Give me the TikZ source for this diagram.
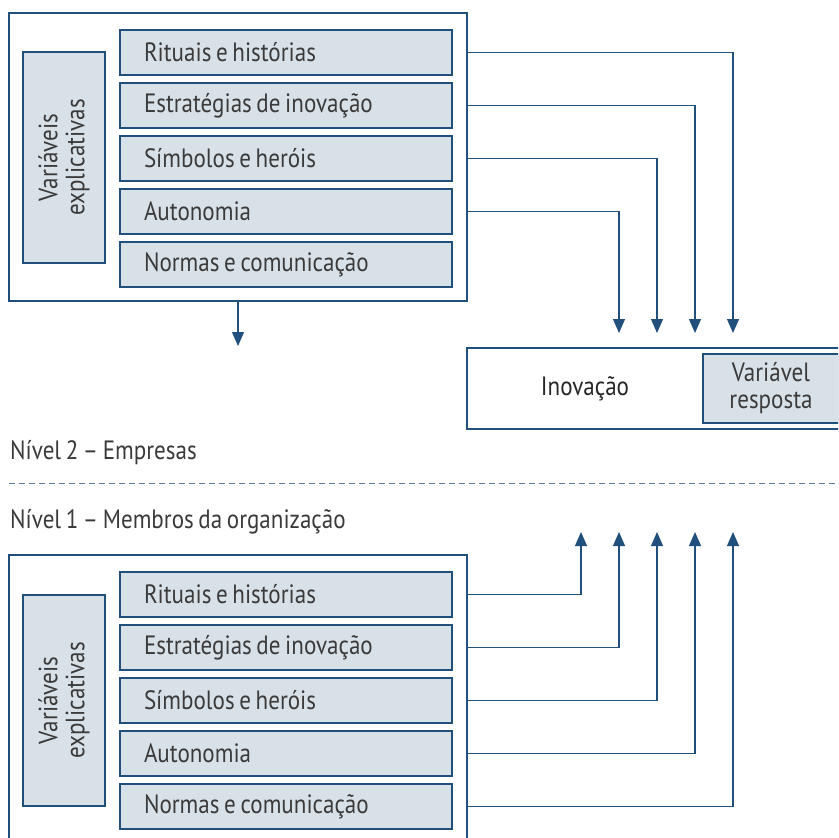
\documentclass[tikz,border=0pt]{standalone}
\usepackage{fontspec}
\setmainfont{PT Sans}[FakeStretch=0.87,WordSpace=0.75]
\usetikzlibrary{arrows.meta}
\definecolor{azul}{HTML}{22507D}
\definecolor{cinza}{HTML}{D9E1E8}
\definecolor{texto}{HTML}{3A3A3A}
\newcommand{\rotulo}[1]{\makebox[284pt][l]{#1}}
\tikzset{
  caixa/.style={draw=azul, line width=1.5pt, fill=cinza, minimum height=45pt,
    minimum width=332pt, inner xsep=24pt, inner ysep=0pt, text=texto},
  moldura/.style={draw=azul, line width=1.5pt, minimum width=458pt,
    minimum height=288pt, inner sep=0pt},
  lateral/.style={draw=azul, line width=1.5pt, fill=cinza, rotate=90,
    minimum width=211pt, minimum height=82pt, align=center, inner sep=0pt,
    text=texto},
  seta/.style={azul, line width=1.2pt, -{Triangle[length=14pt,width=12pt]}},
}
\begin{document}
\begin{tikzpicture}[x=1pt,y=-1pt,font=\fontsize{26.5}{27}\selectfont]
    \clip (0,0) rectangle (838,838);
    %% Nivel 2
    \node[moldura] (molduraA) at (238,157) {};
    \node[lateral] (latA) at (64,157.5) {Variáveis\\explicativas};
    \foreach \t [count=\i] in {Rituais e histórias,Estratégias de inovação,Símbolos e heróis,Autonomia,Normas e comunicação}
        \node[caixa] (a\i) at (286,{52.5+53*(\i-1)}) {\rotulo{\t}};
    \node[draw=azul, line width=1.5pt, minimum width=378pt, minimum height=81pt, inner sep=0pt] (inov) at (656,388.5) {};
    \node[text=black!85] (inovtxt) at (585,389) {Inovação};
    \node[lateral, rotate=-90, minimum width=136pt, minimum height=69pt] (resp) at (771,388.5) {Variável\\resposta};
    \foreach \i in {1,...,4} {
        \coordinate (pa\i) at ({733-38*(\i-1)},333);
        \draw[seta] (a\i -| molduraA.east) -| (pa\i);
    }
    \coordinate (baixo) at (238,346);
    \draw[seta] (molduraA.south) -- (baixo);
    %% Divisao
    \node[anchor=west, inner sep=0pt, text=texto] (n2) at (10,453) {Nível 2 – Empresas};
    \draw[azul!75, line width=1pt, dash pattern=on 6pt off 4pt] (9,483) -- (838,483);
    \node[anchor=west, inner sep=0pt, text=texto] (n1) at (10,522) {Nível 1 – Membros da organização};
    %% Nivel 1
    \node[moldura] (molduraB) at (238,699) {};
    \node[lateral] (latB) at (64,700.5) {Variáveis\\explicativas};
    \foreach \t [count=\i] in {Rituais e histórias,Estratégias de inovação,Símbolos e heróis,Autonomia,Normas e comunicação}
        \node[caixa] (b\i) at (286,{594.5+53*(\i-1)}) {\rotulo{\t}};
    \foreach \i in {1,...,5} {
        \coordinate (pb\i) at ({581+38*(\i-1)},532);
        \draw[seta] (b\i -| molduraB.east) -| (pb\i);
    }
\end{tikzpicture}
\end{document}
